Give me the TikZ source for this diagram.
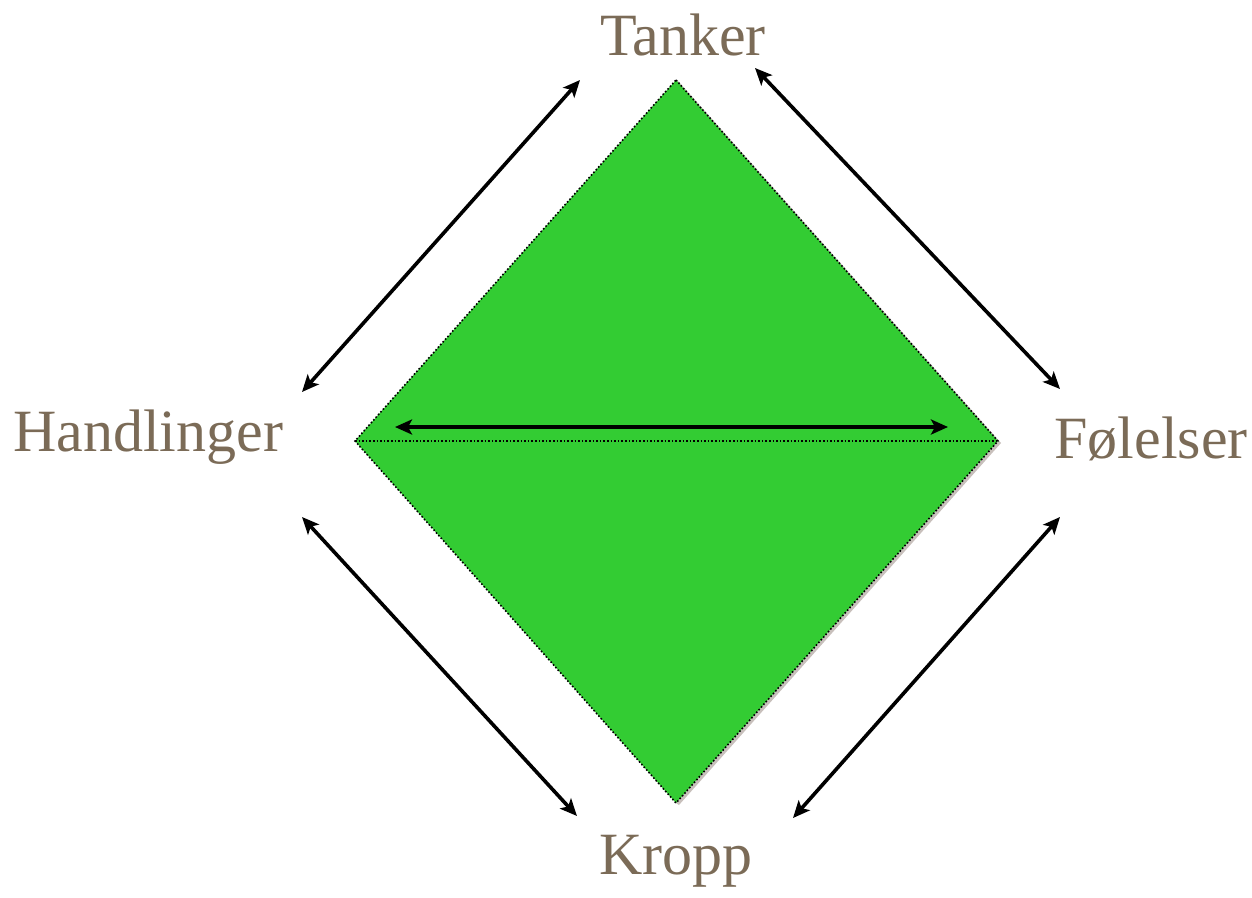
\documentclass[tikz,border=0pt]{standalone}
\usepackage{fontspec}
\setmainfont{Liberation Serif}
\usetikzlibrary{arrows.meta}
\definecolor{lbl}{HTML}{7B6B57}
\definecolor{grn}{HTML}{33CC33}
\definecolor{shd}{HTML}{C8C0BC}
\begin{document}
\begin{tikzpicture}[x=1pt,y=-1pt,
  lab/.style={text=lbl,font=\fontsize{60}{62}\selectfont,inner sep=0pt},
  dbl/.style={line width=3.6pt,{Stealth[length=17pt,width=15pt,inset=4pt]}-{Stealth[length=17pt,width=15pt,inset=4pt]}},
  outl/.style={draw=black,line width=1.6pt,dotted}]
\useasboundingbox (0,0) rectangle (1252,897);
% diamond corners
\coordinate (dt) at (676,80);
\coordinate (dl) at (355,441);
\coordinate (dr) at (998,441);
\coordinate (db) at (676,803);
% shadow
\fill[shd] ([shift={(3,2)}]dt) -- ([shift={(3,2)}]dr) -- ([shift={(3,2)}]db) -- (db) -- (dr) -- (dt) -- cycle;
\fill[grn] (dt) -- (dr) -- (db) -- (dl) -- cycle;
\draw[outl] (dt) -- (dr) -- (db) -- (dl) -- cycle;
\draw[outl] (dl) -- (dr);
% labels
\node[lab] (tanker) at (683,35) {Tanker};
\node[lab] (handl) at (148,437) {Handlinger};
\node[lab] (folel) at (1151,439) {Følelser};
\node[lab] (kropp) at (676,861) {Kropp};
% arrow end points
\coordinate (h1) at (395,427);
\coordinate (h2) at (948,427);
\coordinate (tl1) at (302,392);
\coordinate (tl2) at (580,80);
\coordinate (tr1) at (755,68);
\coordinate (tr2) at (1060,389);
\coordinate (bl1) at (302,517);
\coordinate (bl2) at (577,816);
\coordinate (br1) at (1060,517);
\coordinate (br2) at (793,818);
\draw[dbl] (h1) -- (h2);
\draw[dbl] (tl1) -- (tl2);
\draw[dbl] (tr1) -- (tr2);
\draw[dbl] (bl1) -- (bl2);
\draw[dbl] (br1) -- (br2);
\end{tikzpicture}
\end{document}
